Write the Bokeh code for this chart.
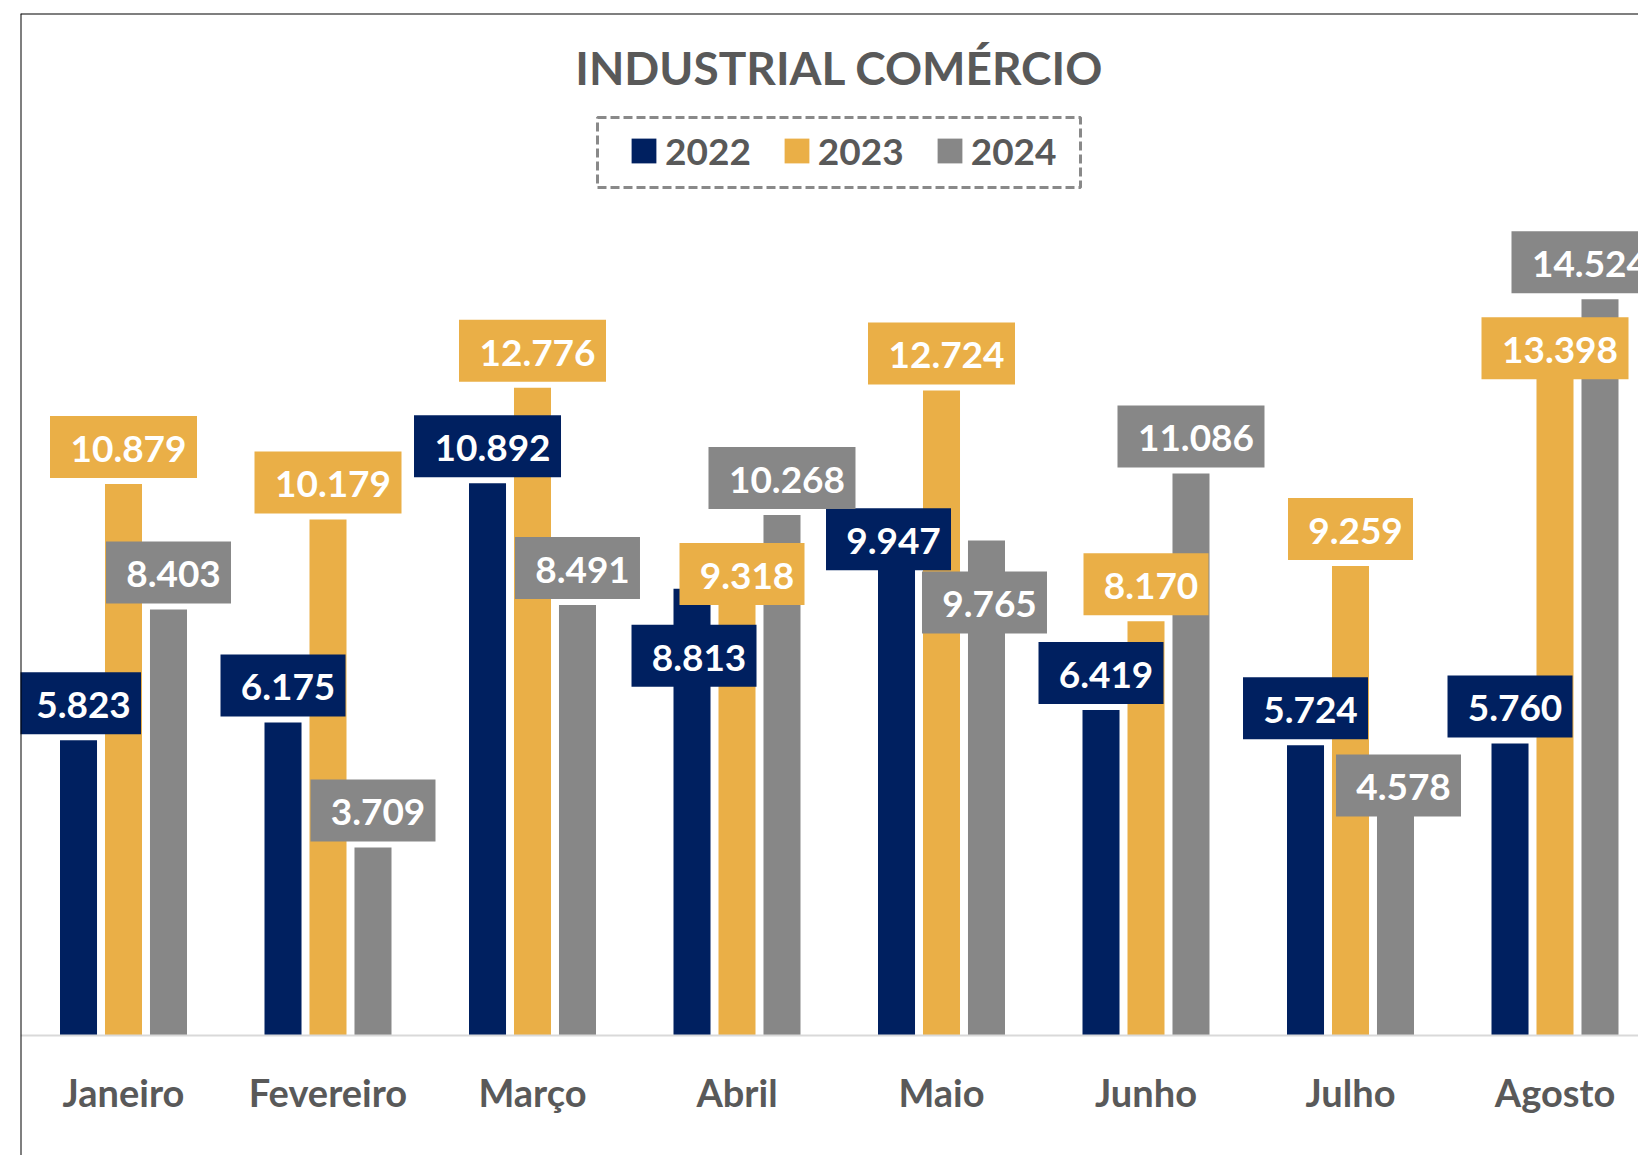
import numpy as np
from bokeh.plotting import figure
from bokeh.models import (Range1d, Span, BoxAnnotation, Legend, LegendItem,
                          ColumnDataSource)
from bokeh.core.properties import value
from bokeh.embed import file_html
from bokeh.resources import INLINE

# ---------------- data ----------------
months = ["Janeiro", "Fevereiro", "Março", "Abril", "Maio", "Junho", "Julho", "Agosto"]
years = ["2022", "2023", "2024"]
v2022 = [5823, 6175, 10892, 8813, 9947, 6419, 5724, 5760]
v2023 = [10879, 10179, 12776, 9318, 12724, 8170, 9259, 13398]
v2024 = [8403, 3709, 8491, 10268, 9765, 11086, 4578, 14524]
title_text = "INDUSTRIAL COMÉRCIO"

# label callout offsets (screen px) from bar centre / bar top
D = (0, -37)
lab_off_2022 = [D, D, D, (2, 67), (-8, 8), D, D, D]
lab_off_2023 = [D, D, D, (5, 11), D, D, D, (0, -8)]
lab_off_2024 = [D, D, D, D, (-2, 62), D, (3, -18), (-15, -37)]

# ---------------- styles / layout ----------------
colors = ["#002060", "#EAAF47", "#878787"]
FONT = "Lato"
TXT = "#595959"
W, H = 1638, 1155
FRAME_L, FRAME_T = 20, 13
CAT0_PX, CAT_PX = 123, 204.5      # pixel centre of first category, pixels per category
BASE_PX, UNIT_PX = 1035, 0.0507   # pixel of zero line, pixels per unit


def xd(px):
    return (px - CAT0_PX) / CAT_PX


def yd(py):
    return (BASE_PX - py) / UNIT_PX


def fmt(v):
    return f"{v:,}".replace(",", ".")


p = figure(width=W, height=H, output_backend="svg", toolbar_location=None,
           x_range=Range1d(xd(FRAME_L), xd(W)), y_range=Range1d(yd(H), yd(FRAME_T)),
           x_axis_location=None, y_axis_location=None, title=None,
           min_border_left=FRAME_L, min_border_top=FRAME_T,
           min_border_right=0, min_border_bottom=0)
p.outline_line_color = None
p.grid.visible = False
p.background_fill_color = "white"
p.border_fill_color = "white"

idx = np.arange(len(months))
offsets = [-0.22, 0.0, 0.22]
bar_w = 0.181
series = [v2022, v2023, v2024]
offs = [lab_off_2022, lab_off_2023, lab_off_2024]

renderers = []
for vals, off, col in zip(series, offsets, colors):
    src = ColumnDataSource(dict(x=idx + off, top=vals))
    r = p.vbar(x="x", top="top", bottom=0, width=bar_w, source=src,
               fill_color=col, line_color=None)
    renderers.append(r)

# baseline
p.add_layout(Span(location=0, dimension="width", line_color="#D9D9D9", line_width=2))

# data label callouts
for vals, off, col, lo in zip(series, offsets, colors, offs):
    lx = [i + off + o[0] / CAT_PX for i, o in zip(idx, lo)]
    ly = [v - o[1] / UNIT_PX for v, o in zip(vals, lo)]
    txt = [fmt(v) for v in vals]
    bw = [125 if len(t) <= 5 else 147 for t in txt]
    src = ColumnDataSource(dict(x=lx, y=ly, t=txt, w=bw))
    p.rect(x="x", y="y", width="w", height=62, width_units="screen",
           height_units="screen", source=src, fill_color=col, line_color=None)
    p.text(x="x", y="y", text="t", source=src, x_offset=5, y_offset=2,
           text_align="center", text_baseline="alphabetic",
           text_font=value(FONT), text_font_style="bold",
           text_font_size="37px", text_color="white")

# category labels
p.text(x=idx, y=[yd(1091)] * len(months), text=months, text_align="center",
       text_baseline="alphabetic", text_font=value(FONT), text_font_style="bold",
       text_font_size="38px", text_color=TXT)

# title
p.text(x=[xd(839)], y=[yd(67)], text=[title_text], text_align="center",
       text_baseline="alphabetic", text_font=value(FONT), text_font_style="bold",
       text_font_size="46px", text_color=TXT)

# legend
legend = Legend(items=[LegendItem(label=y, renderers=[r]) for y, r in zip(years, renderers)],
                orientation="horizontal", location=(608, 982),
                glyph_width=31, glyph_height=31, label_height=31,
                label_standoff=6, spacing=30, padding=0, margin=0,
                border_line_color=None, background_fill_alpha=0,
                label_text_font=FONT, label_text_font_style="bold",
                label_text_font_size="37px", label_text_color=TXT)
p.add_layout(legend)
p.add_layout(BoxAnnotation(left=xd(597), right=xd(1080), top=yd(117), bottom=yd(187),
                           fill_color=None, fill_alpha=0, line_color="#898989",
                           line_alpha=1.0, line_width=3, line_dash="9 4"))

# chart-area border (left and top; right/bottom are cropped in the reference)
p.add_layout(Span(location=xd(FRAME_L), dimension="height", line_color="black", line_width=2))
p.add_layout(Span(location=yd(FRAME_T), dimension="width", line_color="black", line_width=2))

open("out.html", "w").write(file_html(p, INLINE))
